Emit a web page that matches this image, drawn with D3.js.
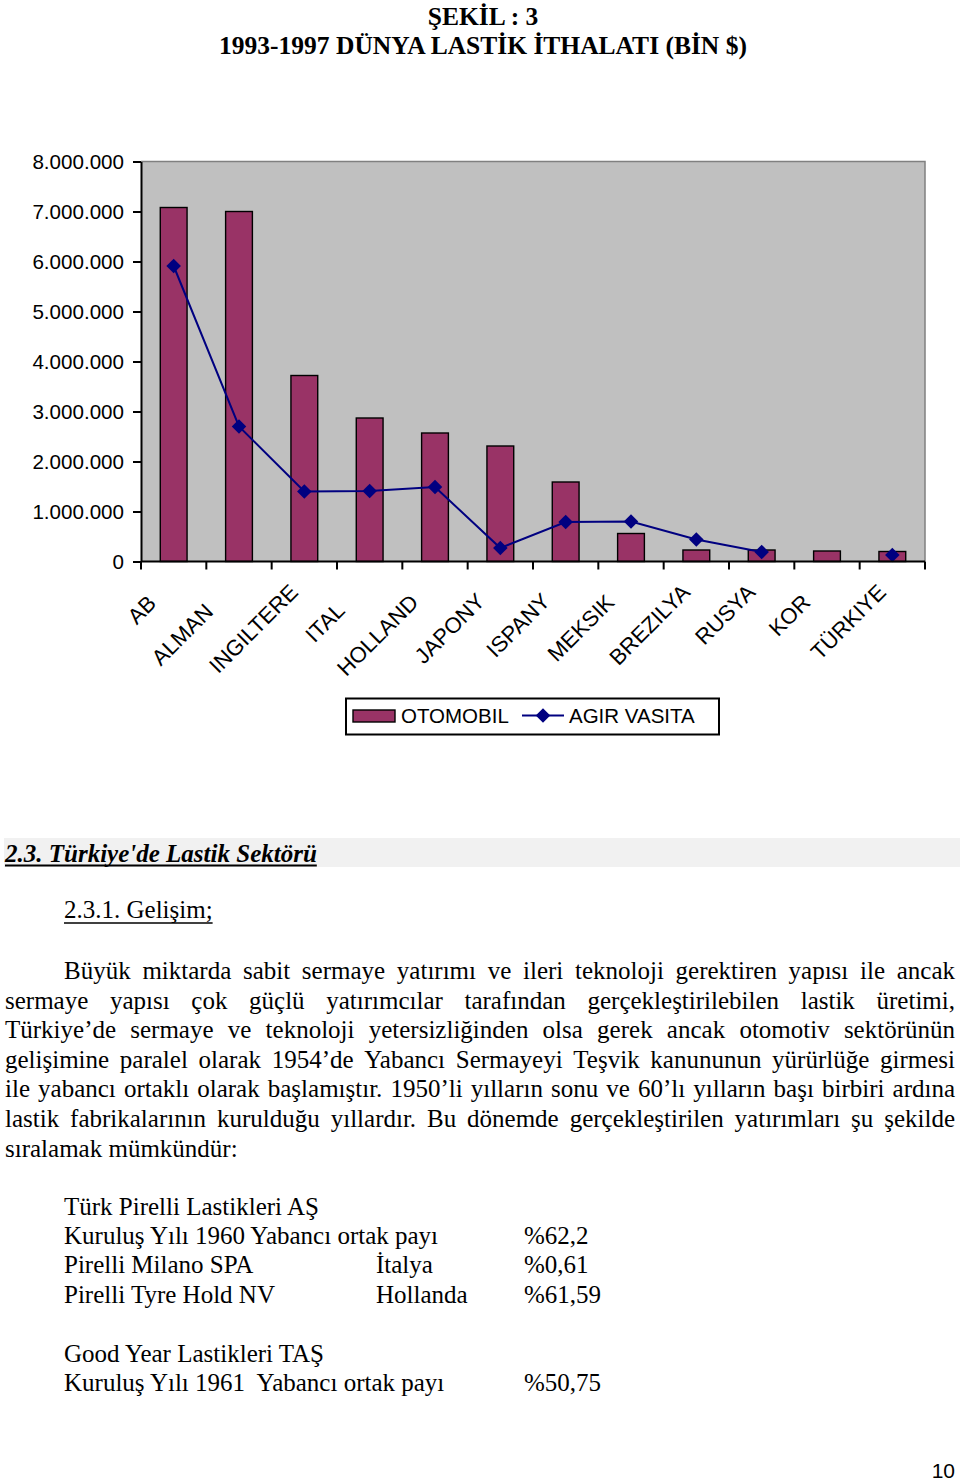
<!DOCTYPE html>
<html>
<head>
<meta charset="utf-8">
<script src="https://cdn.jsdelivr.net/npm/d3@7"></script>
<style>
  body { margin: 0; background: #fff; }
  svg { display: block; }
</style>
</head>
<body>
<div id="page"></div>
<script>

// chart data
var categories = ["ABD", "ALMANYA", "INGILTERE", "ITALYA", "HOLLANDA", "JAPONYA",
  "ISPANYA", "MEKSIKA", "BREZILYA", "RUSYA", "KORE", "TÜRKIYE"];
// the labels are cut off in the original, this is what shows
var shownLabels = ["AB", "ALMAN", "INGILTERE", "ITAL", "HOLLAND", "JAPONY",
  "ISPANY", "MEKSIK", "BREZILYA", "RUSYA", "KOR", "TÜRKIYE"];
var otomobil = [7080000, 7000000, 3720000, 2870000, 2570000, 2310000,
  1590000, 560000, 230000, 230000, 210000, 200000];
var agirVasita = [5910000, 2700000, 1400000, 1410000, 1490000, 270000,
  790000, 800000, 440000, 190000, null, 130000];
var yTicks = [0, 1000000, 2000000, 3000000, 4000000, 5000000, 6000000, 7000000, 8000000];
var seriesNames = ["OTOMOBIL", "AGIR VASITA"];

// page text
var titleLines = ["ŞEKİL : 3", "1993-1997 DÜNYA LASTİK İTHALATI (BİN $)"];
var sectionTitle = "2.3. Türkiye'de Lastik Sektörü";
var subTitle = "2.3.1. Gelişim;";
var paragraphLines = [
  "Büyük miktarda sabit sermaye yatırımı ve ileri teknoloji gerektiren yapısı ile ancak",
  "sermaye yapısı çok güçlü yatırımcılar tarafından gerçekleştirilebilen lastik üretimi,",
  "Türkiye’de sermaye ve teknoloji yetersizliğinden olsa gerek ancak otomotiv sektörünün",
  "gelişimine paralel olarak 1954’de Yabancı Sermayeyi Teşvik kanununun yürürlüğe girmesi",
  "ile yabancı ortaklı olarak başlamıştır. 1950’li yılların sonu ve 60’lı yılların başı birbiri ardına",
  "lastik fabrikalarının kurulduğu yıllardır. Bu dönemde gerçekleştirilen yatırımları şu şekilde",
  "sıralamak mümkündür:"
];
var tableRows = [
  ["Türk Pirelli Lastikleri AŞ", "", ""],
  ["Kuruluş Yılı 1960 Yabancı ortak payı", "", "%62,2"],
  ["Pirelli Milano SPA", "İtalya", "%0,61"],
  ["Pirelli Tyre Hold NV", "Hollanda", "%61,59"],
  ["", "", ""],
  ["Good Year Lastikleri TAŞ", "", ""],
  ["Kuruluş Yılı 1961  Yabancı ortak payı", "", "%50,75"]
];
var pageNumber = "10";

//--------------------------------------------------------------------------
var svgWidth = 960;
var svgHeight = 1484;

var plot = { left: 141, right: 925, top: 161.5, bottom: 561.5 };

var sans = "'Liberation Sans', Arial, sans-serif";
var serif = "'Liberation Serif', 'Times New Roman', serif";

var svg = d3.select("#page")
  .append("svg")
  .attr("width", svgWidth)
  .attr("height", svgHeight);

svg.append("rect")
  .attr("width", svgWidth)
  .attr("height", svgHeight)
  .attr("fill", "#fff");

// title
svg.selectAll(".title")
  .data(titleLines)
  .enter()
  .append("text")
  .attr("class", "title")
  .attr("x", 483)
  .attr("y", (d, i) => 25 + i * 29)
  .attr("text-anchor", "middle")
  .attr("font-family", serif)
  .attr("font-weight", "bold")
  .attr("font-size", 25.5)
  .text(d => d);

// scales
var xScale = d3.scaleBand()
  .domain(categories)
  .range([plot.left, plot.right])
  .paddingInner(0.59)
  .paddingOuter(0.295);

var yScale = d3.scaleLinear()
  .domain([0, 8000000])
  .range([plot.bottom, plot.top]);

var trLocale = d3.formatLocale({ decimal: ",", thousands: ".", grouping: [3], currency: ["", ""] });
var numFormat = trLocale.format(",d");

var chartGroup = svg.append("g");

// plot area
chartGroup.append("rect")
  .attr("x", plot.left)
  .attr("y", plot.top)
  .attr("width", plot.right - plot.left)
  .attr("height", plot.bottom - plot.top)
  .attr("fill", "#c0c0c0");

chartGroup.append("path")
  .attr("d", `M${plot.left},${plot.top}H${plot.right}V${plot.bottom}`)
  .attr("fill", "none")
  .attr("stroke", "#808080")
  .attr("stroke-width", 1.5);

// bars
chartGroup.selectAll(".bar")
  .data(otomobil)
  .enter()
  .append("rect")
  .attr("class", "bar")
  .attr("x", (d, i) => xScale(categories[i]))
  .attr("y", d => yScale(d))
  .attr("width", xScale.bandwidth())
  .attr("height", d => yScale(0) - yScale(d))
  .attr("fill", "#993366")
  .attr("stroke", "#000")
  .attr("stroke-width", 1.4);

// line for heavy vehicles
var center = i => xScale(categories[i]) + xScale.bandwidth() / 2;

var lineGen = d3.line()
  .defined(d => d != null)
  .x((d, i) => center(i))
  .y(d => yScale(d));

chartGroup.append("path")
  .datum(agirVasita)
  .attr("d", lineGen)
  .attr("fill", "none")
  .attr("stroke", "#000080")
  .attr("stroke-width", 2);

var diamond = d3.symbol().type(d3.symbolDiamond2).size(135);

chartGroup.selectAll(".marker")
  .data(agirVasita.map((v, i) => ({ v: v, i: i })).filter(d => d.v != null))
  .enter()
  .append("path")
  .attr("class", "marker")
  .attr("d", diamond)
  .attr("transform", d => `translate(${center(d.i)},${yScale(d.v)})`)
  .attr("fill", "#000080");

// y axis
var leftAxis = d3.axisLeft(yScale)
  .tickValues(yTicks)
  .tickFormat(numFormat)
  .tickSize(8)
  .tickSizeOuter(0)
  .tickPadding(9);

var yAxis = chartGroup.append("g")
  .attr("transform", `translate(${plot.left},0)`)
  .call(leftAxis);

yAxis.select(".domain").attr("stroke", "#000").attr("stroke-width", 2);
yAxis.selectAll(".tick line").attr("stroke", "#000").attr("stroke-width", 2);
yAxis.selectAll(".tick text")
  .attr("font-family", sans)
  .attr("font-size", 20.6)
  .attr("fill", "#000");

// x axis, ticks sit between the categories
var boundaries = d3.range(categories.length + 1)
  .map(i => plot.left + i * xScale.step());

chartGroup.append("line")
  .attr("x1", plot.left)
  .attr("x2", plot.right)
  .attr("y1", plot.bottom)
  .attr("y2", plot.bottom)
  .attr("stroke", "#000")
  .attr("stroke-width", 2);

chartGroup.selectAll(".xtick")
  .data(boundaries)
  .enter()
  .append("line")
  .attr("class", "xtick")
  .attr("x1", d => d)
  .attr("x2", d => d)
  .attr("y1", plot.bottom)
  .attr("y2", plot.bottom + 8)
  .attr("stroke", "#000")
  .attr("stroke-width", 2);

var labelGroups = chartGroup.selectAll(".xlabel")
  .data(categories)
  .enter()
  .append("g")
  .attr("class", "xlabel")
  .attr("transform", (d, i) => `translate(${center(i) - 5},${plot.bottom + 32}) rotate(-45)`);

labelGroups.append("text")
  .attr("font-family", sans)
  .attr("font-size", 22)
  .attr("fill", "#000")
  .text(d => d)
  .each(function(d, i) {
    // keep the start of the full name, show only the visible part
    var full = this.getComputedTextLength();
    d3.select(this)
      .attr("x", -full)
      .attr("text-anchor", "start")
      .text(shownLabels[i]);
  });

// legend
var legend = svg.append("g");

legend.append("rect")
  .attr("x", 346)
  .attr("y", 698.5)
  .attr("width", 373)
  .attr("height", 36)
  .attr("fill", "#fff")
  .attr("stroke", "#000")
  .attr("stroke-width", 2);

legend.append("rect")
  .attr("x", 353)
  .attr("y", 710)
  .attr("width", 42)
  .attr("height", 12)
  .attr("fill", "#993366")
  .attr("stroke", "#000")
  .attr("stroke-width", 1.4);

legend.append("text")
  .attr("x", 401)
  .attr("y", 723)
  .attr("font-family", sans)
  .attr("font-size", 20.5)
  .text(seriesNames[0]);

legend.append("line")
  .attr("x1", 522)
  .attr("x2", 564)
  .attr("y1", 715.5)
  .attr("y2", 715.5)
  .attr("stroke", "#000080")
  .attr("stroke-width", 2);

legend.append("path")
  .attr("d", diamond)
  .attr("transform", "translate(543,715.5)")
  .attr("fill", "#000080");

legend.append("text")
  .attr("x", 569)
  .attr("y", 723)
  .attr("font-family", sans)
  .attr("font-size", 20.5)
  .text(seriesNames[1]);

// section heading
svg.append("rect")
  .attr("x", 4)
  .attr("y", 838)
  .attr("width", 956)
  .attr("height", 29)
  .attr("fill", "#f1f1f1");

var secText = svg.append("text")
  .attr("x", 5)
  .attr("y", 862)
  .attr("font-family", serif)
  .attr("font-weight", "bold")
  .attr("font-style", "italic")
  .attr("font-size", 25)
  .text(sectionTitle);

svg.append("line")
  .attr("x1", 5)
  .attr("x2", 5 + secText.node().getComputedTextLength())
  .attr("y1", 865.5)
  .attr("y2", 865.5)
  .attr("stroke", "#000")
  .attr("stroke-width", 2);

var subText = svg.append("text")
  .attr("x", 64)
  .attr("y", 918)
  .attr("font-family", serif)
  .attr("font-size", 25)
  .text(subTitle);

svg.append("line")
  .attr("x1", 64)
  .attr("x2", 64 + subText.node().getComputedTextLength())
  .attr("y1", 923)
  .attr("y2", 923)
  .attr("stroke", "#000")
  .attr("stroke-width", 1.5);

// justified paragraph, one word at a time
var textLeft = 5;
var textRight = 955;

paragraphLines.forEach(function(line, li) {
  var baseY = 979 + li * 29.6;
  var startX = li === 0 ? 64 : textLeft;
  var words = line.split(" ");
  var g = svg.append("g");
  var nodes = words.map(w => g.append("text")
    .attr("y", baseY)
    .attr("font-family", serif)
    .attr("font-size", 25)
    .text(w));
  var widths = nodes.map(n => n.node().getComputedTextLength());
  var total = d3.sum(widths);
  var last = li === paragraphLines.length - 1;
  var gap = 6.25;
  var squeeze = 1;
  if (!last) {
    var avail = textRight - startX;
    gap = (avail - total) / (words.length - 1);
    if (gap < 3.5) {
      gap = 3.5;
      squeeze = (avail - gap * (words.length - 1)) / total;
    }
  }
  var cx = startX;
  nodes.forEach(function(n, k) {
    n.attr("x", cx);
    if (squeeze !== 1) {
      n.attr("textLength", widths[k] * squeeze).attr("lengthAdjust", "spacingAndGlyphs");
    }
    cx += widths[k] * squeeze + gap;
  });
});

// company table
var colX = [64, 376, 524];

tableRows.forEach(function(row, ri) {
  row.forEach(function(cell, ci) {
    if (!cell) return;
    svg.append("text")
      .attr("x", colX[ci])
      .attr("y", 1214.5 + ri * 29.4)
      .attr("font-family", serif)
      .attr("font-size", 25)
      .style("white-space", "pre")
      .text(cell);
  });
});

svg.append("text")
  .attr("x", 955)
  .attr("y", 1478)
  .attr("text-anchor", "end")
  .attr("font-family", sans)
  .attr("font-size", 21)
  .text(pageNumber);

</script>
</body>
</html>
